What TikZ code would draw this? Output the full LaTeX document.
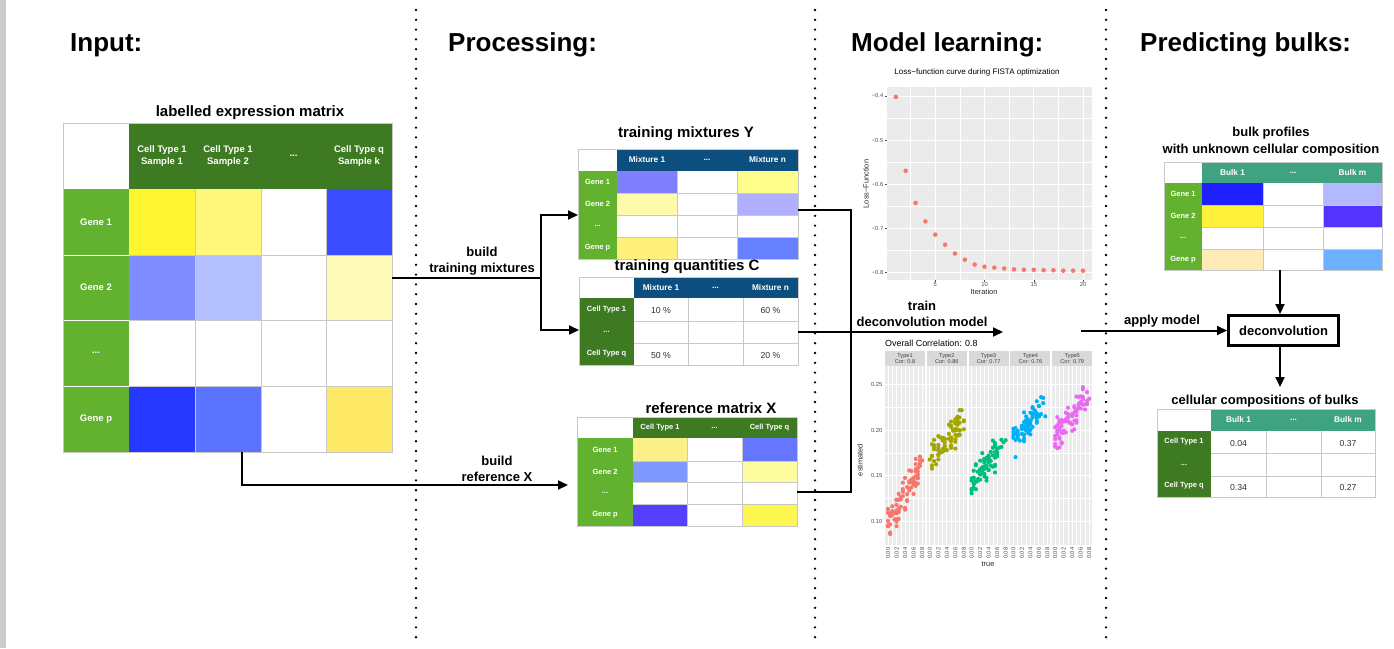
\documentclass[tikz,border=0pt]{standalone}
\usepackage{fontspec}
\setmainfont{Liberation Sans}
\usetikzlibrary{arrows.meta}

\definecolor{dkgreen}{HTML}{3D7A22}
\definecolor{ltgreen}{HTML}{62B22F}
\definecolor{hdrblue}{HTML}{0C4F7E}
\definecolor{teal}{HTML}{3FA382}
\definecolor{gridgray}{HTML}{C8C8C8}
\definecolor{valgray}{HTML}{333333}
\definecolor{edgegray}{HTML}{CBCBCB}
\definecolor{panelgray}{HTML}{EBEBEB}
\definecolor{stripgray}{HTML}{D9D9D9}
\definecolor{ticktext}{HTML}{4D4D4D}
\definecolor{cA}{HTML}{F8766D}
\definecolor{cB}{HTML}{A3A500}
\definecolor{cC}{HTML}{00BF7D}
\definecolor{cD}{HTML}{00B0F6}
\definecolor{cE}{HTML}{E76BF3}

\newcommand{\fsz}[2]{\fontsize{#1}{#2}\selectfont}
% filled table cell: x1 y1 x2 y2 hexcolour
\newcommand{\cellc}[5]{\definecolor{tmpc}{HTML}{#5}\fill[tmpc] (#1,#2) rectangle (#3,#4);}

\begin{document}
\begin{tikzpicture}[x=1pt,y=-1pt,
  hdr/.style={font=\fsz{26}{30}\bfseries, anchor=base west, inner sep=0pt},
  ttl/.style={font=\fsz{15}{17}\bfseries, align=center, inner sep=0pt},
  sttl/.style={font=\fsz{13}{17}\bfseries, align=center, inner sep=0pt},
  lbl/.style={font=\fsz{13}{16}\bfseries, align=center, inner sep=0pt},
  bigtxt/.style={font=\fsz{9.5}{11.5}\bfseries, text=white, align=center, inner sep=0pt},
  coltxt/.style={font=\fsz{8.3}{10}\bfseries, text=white, inner sep=0pt},
  rowtxt/.style={font=\fsz{7.5}{9}\bfseries, text=white, inner sep=0pt},
  valtxt/.style={font=\fsz{8.7}{10}, text=valgray, inner sep=0pt},
  tick/.style={font=\fsz{5.8}{7}, text=ticktext, inner sep=0pt},
  axlab/.style={font=\fsz{7.4}{9}, text=black!85, inner sep=0pt},
  striptxt/.style={font=\fsz{5.6}{6.6}, text=black!75, align=center, inner sep=0pt},
  grid/.style={gridgray, line width=1pt},
  conn/.style={line width=2pt, black},
  arr/.style={conn, -{Triangle[length=10pt,width=9pt]}},
  tabframe/.style={rectangle, draw=none, inner sep=0pt, outer sep=0pt},
  sepline/.style={line width=2.6pt, line cap=round, dash pattern=on 0pt off 9.8pt},
  major/.style={white, line width=1pt},
  minor/.style={white, line width=0.5pt},
]
\useasboundingbox (0,0) rectangle (1394,648);
\fill[white] (0,0) rectangle (1394,648);
\fill[edgegray] (0,0) rectangle (6,648);

% ---------- column headings and separators ----------
\node[hdr] (hIn) at (70,51.5) {Input:};
\node[hdr] (hPr) at (448,51.5) {Processing:};
\node[hdr] (hMl) at (851,51.5) {Model learning:};
\node[hdr] (hPb) at (1140,51.5) {Predicting bulks:};

\draw[sepline] (416,10) -- (416,640);
\draw[sepline] (815,10) -- (815,640);
\draw[sepline] (1106,10) -- (1106,640);

% ---------- labelled expression matrix ----------
\node[ttl] (tM) at (250,113) {labelled expression matrix};
\node[tabframe, minimum width=329pt, minimum height=329pt] (M) at (227.5,287.5) {};
\fill[dkgreen] (129,123) rectangle (392,189);
\fill[ltgreen] (63,189) rectangle (129,452);
\cellc{129}{189}{195}{255}{FFF432}\cellc{195}{189}{261}{255}{FEF77A}\cellc{326}{189}{392}{255}{3B4DFF}
\cellc{129}{255}{195}{320}{7F8CFF}\cellc{195}{255}{261}{320}{B4BFFF}\cellc{326}{255}{392}{320}{FEFBB8}
\cellc{129}{386}{195}{452}{2638FF}\cellc{195}{386}{261}{452}{5C73FF}\cellc{326}{386}{392}{452}{FDE965}
\foreach \yy in {255,320,386} {
  \draw[white, line width=1pt] (63,\yy) -- (129,\yy);
  \draw[grid] (129,\yy) -- (392,\yy);
}
\foreach \xx in {195,261,326} \draw[grid] (\xx,189) -- (\xx,452);
\draw[grid] (63,123) rectangle (392,452);
\node[bigtxt] at (162,156) {Cell Type 1\\Sample 1};
\node[bigtxt] at (228,156) {Cell Type 1\\Sample 2};
\node[bigtxt] at (293.5,156) {...};
\node[bigtxt] at (359,156) {Cell Type q\\Sample k};
\node[bigtxt] at (96,222) {Gene 1};
\node[bigtxt] at (96,287.5) {Gene 2};
\node[bigtxt] at (96,353) {...};
\node[bigtxt] at (96,419) {Gene p};

% ---------- training mixtures Y ----------
\node[ttl] (tY) at (686,134) {training mixtures Y};
\node[tabframe, minimum width=220pt, minimum height=110pt] (Y) at (688,204) {};
\fill[hdrblue] (617,149) rectangle (798,171);
\fill[ltgreen] (578,171) rectangle (617,259);
\cellc{617}{171}{677}{193}{8080FF}\cellc{737}{171}{798}{193}{FEFE8A}
\cellc{617}{193}{677}{215}{FEFCAA}\cellc{737}{193}{798}{215}{B0B0FE}
\cellc{617}{237}{677}{259}{FEF07A}\cellc{737}{237}{798}{259}{6680FF}
\foreach \yy in {193,215,237} \draw[grid] (617,\yy) -- (798,\yy);
\foreach \xx in {677,737} \draw[grid] (\xx,171) -- (\xx,259);
\draw[grid] (578,149) rectangle (798,259);
\node[coltxt] at (647,160) {Mixture 1};
\node[coltxt] at (707,160) {...};
\node[coltxt] at (767.5,160) {Mixture n};
\node[rowtxt] at (597.5,182) {Gene 1};
\node[rowtxt] at (597.5,204) {Gene 2};
\node[rowtxt] at (597.5,226) {...};
\node[rowtxt] at (597.5,248) {Gene p};

% ---------- training quantities C ----------
\node[ttl] (tC) at (687,267) {training quantities C};
\node[tabframe, minimum width=219pt, minimum height=88pt] (C) at (688.5,321) {};
\fill[hdrblue] (634,277) rectangle (798,298);
\fill[dkgreen] (579,298) rectangle (634,365);
\foreach \yy in {321,343} \draw[grid] (634,\yy) -- (798,\yy);
\foreach \xx in {688,743} \draw[grid] (\xx,298) -- (\xx,365);
\draw[grid] (579,277) rectangle (798,365);
\node[coltxt] at (661,287.5) {Mixture 1};
\node[coltxt] at (715.5,287.5) {...};
\node[coltxt] at (770.5,287.5) {Mixture n};
\node[rowtxt] at (606.5,309.5) {Cell Type 1};
\node[rowtxt] at (606.5,332) {...};
\node[rowtxt] at (606.5,353.5) {Cell Type q};
\node[valtxt] at (661,310.5) {10 \%};
\node[valtxt] at (770.5,310.5) {60 \%};
\node[valtxt] at (661,355) {50 \%};
\node[valtxt] at (770.5,355) {20 \%};

% ---------- reference matrix X ----------
\node[ttl] (tX) at (711,408) {reference matrix X};
\node[tabframe, minimum width=220pt, minimum height=109pt] (X) at (687,471.5) {};
\fill[dkgreen] (633,417) rectangle (797,438);
\fill[ltgreen] (577,438) rectangle (633,526);
\cellc{633}{438}{687}{461}{FDEF8A}\cellc{742}{438}{797}{461}{6577FF}
\cellc{633}{461}{687}{482}{8099FF}\cellc{742}{461}{797}{482}{FEFEA0}
\cellc{633}{504}{687}{526}{5540FF}\cellc{742}{504}{797}{526}{FEF752}
\foreach \yy in {461,482,504} \draw[grid] (633,\yy) -- (797,\yy);
\foreach \xx in {687,742} \draw[grid] (\xx,438) -- (\xx,526);
\draw[grid] (577,417) rectangle (797,526);
\node[rowtxt] at (660,427.5) {Cell Type 1};
\node[rowtxt] at (714.5,427.5) {...};
\node[rowtxt] at (769.5,427.5) {Cell Type q};
\node[rowtxt] at (605,449.5) {Gene 1};
\node[rowtxt] at (605,471.5) {Gene 2};
\node[rowtxt] at (605,493) {...};
\node[rowtxt] at (605,515) {Gene p};

% ---------- bulk profiles ----------
\node[sttl] (tB) at (1271,141.5) {bulk profiles\\with unknown cellular composition};
\node[tabframe, minimum width=218pt, minimum height=108pt] (B) at (1273,216) {};
\fill[teal] (1202,162) rectangle (1382,183);
\fill[ltgreen] (1164,183) rectangle (1202,270);
\cellc{1202}{183}{1263}{205}{2020FF}\cellc{1323}{183}{1382}{205}{B3B8FF}
\cellc{1202}{205}{1263}{227}{FFF03A}\cellc{1323}{205}{1382}{227}{5533FF}
\cellc{1202}{249}{1263}{270}{FEEBB8}\cellc{1323}{249}{1382}{270}{6CB1FF}
\foreach \yy in {205,227,249} \draw[grid] (1202,\yy) -- (1382,\yy);
\foreach \xx in {1263,1323} \draw[grid] (\xx,183) -- (\xx,270);
\draw[grid] (1164,162) rectangle (1382,270);
\node[coltxt] at (1232.5,172.5) {Bulk 1};
\node[coltxt] at (1293,172.5) {...};
\node[coltxt] at (1352.5,172.5) {Bulk m};
\node[rowtxt] at (1183,194) {Gene 1};
\node[rowtxt] at (1183,216) {Gene 2};
\node[rowtxt] at (1183,238) {...};
\node[rowtxt] at (1183,259.5) {Gene p};

% ---------- deconvolution ----------
\node[draw, line width=3pt, minimum width=110pt, minimum height=30pt, inner sep=0pt,
      font=\fsz{13}{15}\bfseries] (D) at (1283.5,330.5) {deconvolution};

% ---------- cellular compositions of bulks ----------
\node[sttl] (tR) at (1265,401) {cellular compositions of bulks};
\node[tabframe, minimum width=218pt, minimum height=88pt] (R) at (1266,453) {};
\fill[teal] (1211,409) rectangle (1375,431);
\fill[dkgreen] (1157,431) rectangle (1211,497);
\foreach \yy in {453,476} \draw[grid] (1211,\yy) -- (1375,\yy);
\foreach \xx in {1266,1321} \draw[grid] (\xx,431) -- (\xx,497);
\draw[grid] (1157,409) rectangle (1375,497);
\node[coltxt] at (1238.5,420) {Bulk 1};
\node[coltxt] at (1293.5,420) {...};
\node[coltxt] at (1348,420) {Bulk m};
\node[rowtxt] at (1184,442) {Cell Type 1};
\node[rowtxt] at (1184,464.5) {...};
\node[rowtxt] at (1184,486) {Cell Type q};
\node[valtxt] at (1238.5,443) {0.04};
\node[valtxt] at (1348,443) {0.37};
\node[valtxt] at (1238.5,487) {0.34};
\node[valtxt] at (1348,487) {0.27};

% ---------- loss-function curve ----------
\node[font=\fsz{8}{9}, inner sep=0pt] (tL) at (977,72) {Loss−function curve during FISTA optimization};
\fill[panelgray] (886.5,87) rectangle (1092,279.5);
\foreach \v in {-0.45,-0.55,-0.65,-0.75} \draw[minor] (886.5,{96-(\v+0.4)*440}) -- (1092,{96-(\v+0.4)*440});
\foreach \i in {2.5,7.5,12.5,17.5} \draw[minor] ({886+9.85*\i},87) -- ({886+9.85*\i},279.5);
\foreach \v/\lab in {-0.4/−0.4,-0.5/−0.5,-0.6/−0.6,-0.7/−0.7,-0.8/−0.8} {
  \draw[major] (886.5,{96-(\v+0.4)*440}) -- (1092,{96-(\v+0.4)*440});
  \draw[ticktext, line width=0.5pt] (884.5,{96-(\v+0.4)*440}) -- (886.5,{96-(\v+0.4)*440});
  \node[tick, anchor=east] at (883.5,{96-(\v+0.4)*440}) {\lab};
}
\foreach \i in {5,10,15,20} {
  \draw[major] ({886+9.85*\i},87) -- ({886+9.85*\i},279.5);
  \draw[ticktext, line width=0.5pt] ({886+9.85*\i},279.5) -- ({886+9.85*\i},281.5);
  \node[tick, anchor=north] at ({886+9.85*\i},282) {\i};
}
\foreach \i/\v in {1/-0.402,2/-0.570,3/-0.643,4/-0.685,5/-0.715,6/-0.738,7/-0.758,
                   8/-0.772,9/-0.783,10/-0.788,11/-0.790,12/-0.792,13/-0.794,14/-0.795,
                   15/-0.795,16/-0.796,17/-0.796,18/-0.797,19/-0.797,20/-0.797}
  \fill[cA] ({886+9.85*\i},{96-(\v+0.4)*440}) circle (2.3);
\node[axlab] at (984,292) {Iteration};
\node[axlab, rotate=90] at (866,184) {Loss−Function};

% ---------- connectors ----------
\coordinate (jTM) at (541,277.5);
\draw[conn] ([yshift=10pt]M.east) -- (jTM);
\draw[arr] (jTM) |- ([yshift=-11pt]Y.west);
\draw[arr] (jTM) |- ([yshift=-9pt]C.west);
\node[lbl] (lTM) at (482,261) {build\\training mixtures};

\draw[arr, shorten >=9pt] ([xshift=14.5pt]M.south) |- ([yshift=-13.5pt]X.west);
\node[lbl] (lRX) at (497,469) {build\\reference X};

\coordinate (jMid) at (851,332);
\coordinate (trainEnd) at (1003,332);
\draw[conn] ([yshift=-6pt]Y.east) -| (jMid) |- ([yshift=-20.5pt]X.east);
\draw[arr] ([yshift=-11pt]C.east) -- (trainEnd);
\node[lbl] (lTR) at (922,313.5) {train\\deconvolution model};

\coordinate (applyStart) at (1081,330.5);
\draw[arr] (applyStart) -- (D.west);
\node[lbl] (lAP) at (1162,321) {apply model};

\draw[arr] ([xshift=7pt]B.south) -- ([xshift=7pt]B.south |- D.north);
\draw[arr, shorten >=22pt] ([xshift=-3.5pt]D.south) -- ([xshift=-3.5pt]D.south |- R.north);

% ---------- estimated vs true scatter ----------
\node[font=\fsz{8.9}{10}, inner sep=0pt, anchor=west] (tS) at (885,343) {Overall Correlation: 0.8};
\pgfmathsetseed{4711}
\foreach \j/\nm/\corr/\a/\b/\col in {0/Type1/0.8/0.100/0.75/cA, 1/Type2/0.86/0.168/0.50/cB,
    2/Type3/0.77/0.145/0.50/cC, 3/Type4/0.76/0.188/0.55/cD, 4/Type5/0.79/0.193/0.58/cE} {
  \pgfmathsetmacro\pl{885+41.8*\j}
  \fill[stripgray] (\pl,351) rectangle ({\pl+40},366);
  \node[striptxt] at ({\pl+20},358.5) {\nm\\Cor: \corr};
  \fill[panelgray] (\pl,366) rectangle ({\pl+40},545);
  \foreach \v in {0.125,0.175,0.225} \draw[minor] (\pl,{430+(0.20-\v)*912}) -- ({\pl+40},{430+(0.20-\v)*912});
  \foreach \tt in {0.01,0.03,0.05,0.07} \draw[minor] ({\pl+3+425*\tt},366) -- ({\pl+3+425*\tt},545);
  \foreach \v in {0.10,0.15,0.20,0.25} \draw[major] (\pl,{430+(0.20-\v)*912}) -- ({\pl+40},{430+(0.20-\v)*912});
  \foreach \tt/\lab in {0/0.00,0.02/0.02,0.04/0.04,0.06/0.06,0.08/0.08} {
    \draw[major] ({\pl+3+425*\tt},366) -- ({\pl+3+425*\tt},545);
    \node[tick, rotate=90, anchor=east] at ({\pl+3+425*\tt},547.5) {\lab};
  }
  \begin{scope}
    \clip (\pl,366) rectangle ({\pl+40},545);
    \foreach \k in {1,...,80} {
      \pgfmathsetmacro\tv{0.005*floor(16.99*rnd*(0.78+0.22*rnd))}
      \pgfmathsetmacro\ev{\a+\b*\tv+0.0105*(rand+rand)}
      \fill[\col] ({\pl+3+425*\tv},{430+(0.20-\ev)*912}) circle (2.1);
    }
  \end{scope}
}
\foreach \v/\lab in {0.10/0.10,0.15/0.15,0.20/0.20,0.25/0.25}
  \node[tick, anchor=east] at (882.5,{430+(0.20-\v)*912}) {\lab};
\node[axlab] at (988,564) {true};
\node[axlab, rotate=90] at (860,460) {estimated};
\end{tikzpicture}
\end{document}
